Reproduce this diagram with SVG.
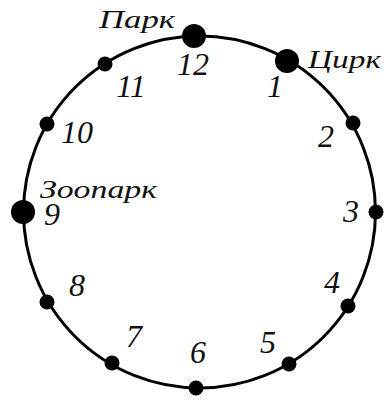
<svg xmlns="http://www.w3.org/2000/svg" width="387" height="400" viewBox="0 0 387 400" font-family="Liberation Serif, serif" font-style="italic">
<style>
.ring{fill:none;stroke:#000;stroke-width:3}
.dot{fill:#000}
.num{font-size:32px;text-anchor:middle;fill:#111}
.word{font-size:25px;fill:#111}
</style>
<rect width="387" height="400" fill="#fff"/>
<g id="connectors">
<circle class="ring" cx="199.5" cy="212" r="176"/>
</g>
<g id="n12"><circle class="dot" cx="194" cy="36" r="12"/><text class="num" x="193" y="75">12</text><text class="word" x="99" y="28" textLength="76" lengthAdjust="spacingAndGlyphs">Парк</text></g>
<g id="n1"><circle class="dot" cx="287" cy="61" r="12"/><text class="num" x="275" y="97">1</text><text class="word" x="308" y="68" textLength="73" lengthAdjust="spacingAndGlyphs">Цирк</text></g>
<g id="n2"><circle class="dot" cx="353" cy="123" r="7.5"/><text class="num" x="326" y="147">2</text></g>
<g id="n3"><circle class="dot" cx="376" cy="212" r="7.5"/><text class="num" x="351" y="222">3</text></g>
<g id="n4"><circle class="dot" cx="348" cy="306" r="7.5"/><text class="num" x="332" y="293">4</text></g>
<g id="n5"><circle class="dot" cx="289" cy="364" r="7.5"/><text class="num" x="268" y="353">5</text></g>
<g id="n6"><circle class="dot" cx="196" cy="388" r="7.5"/><text class="num" x="198" y="363">6</text></g>
<g id="n7"><circle class="dot" cx="112" cy="363" r="7.5"/><text class="num" x="134" y="347">7</text></g>
<g id="n8"><circle class="dot" cx="47" cy="302" r="7.5"/><text class="num" x="77" y="296">8</text></g>
<g id="n9"><circle class="dot" cx="23" cy="212" r="12"/><text class="num" x="52" y="225">9</text><text class="word" x="40" y="198" textLength="117" lengthAdjust="spacingAndGlyphs">Зоопарк</text></g>
<g id="n10"><circle class="dot" cx="47" cy="124" r="7.5"/><text class="num" x="77" y="143">10</text></g>
<g id="n11"><circle class="dot" cx="105" cy="64" r="7.5"/><text class="num" x="131" y="97">11</text></g>
</svg>
